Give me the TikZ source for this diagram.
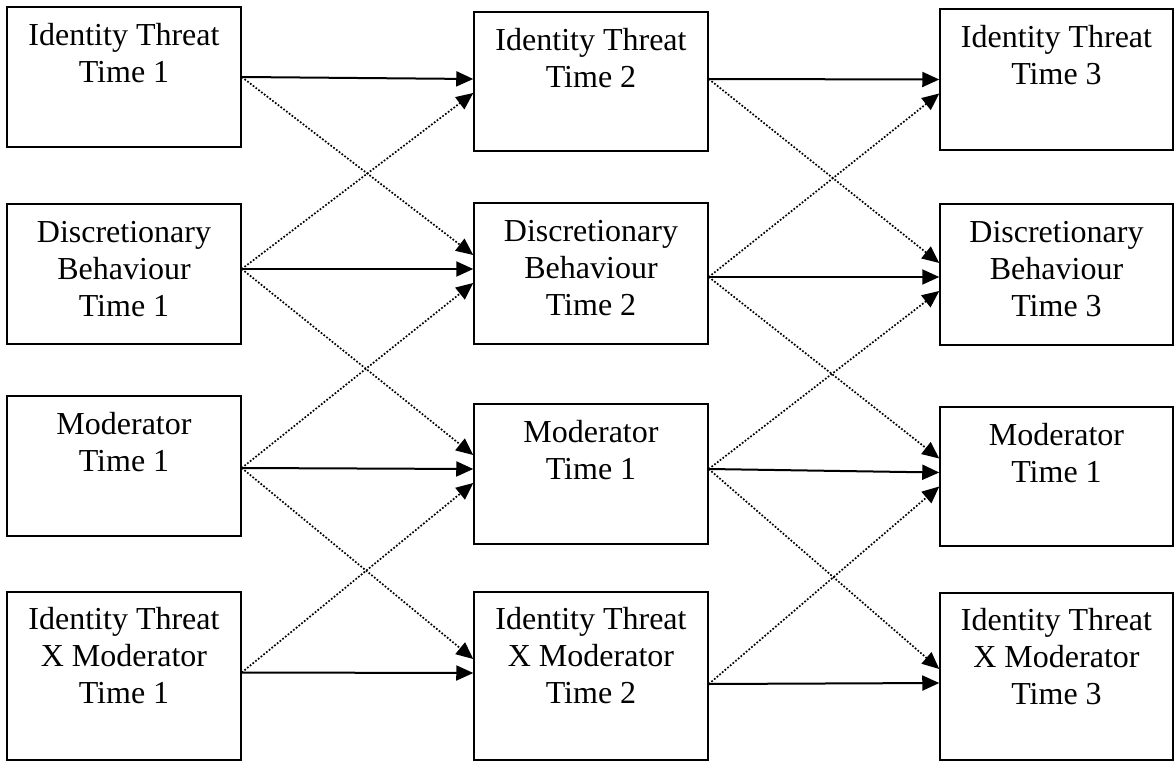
\documentclass[tikz,border=0pt]{standalone}
\usepackage{fontspec}
\setmainfont{Liberation Serif}
\usetikzlibrary{arrows.meta,calc}

\tikzset{
  box/.style={draw=black, line width=1.5pt, rectangle, inner sep=0pt, fill=white},
  lbl/.style={anchor=base, inner sep=0pt, font=\fontsize{32pt}{37pt}\selectfont},
  solidarrow/.style={line width=2pt, -{Triangle[length=17pt,width=15pt]}},
  dotarrow/.style={line width=1.7pt, dash pattern=on 1.7pt off 1.8pt,
    -{Triangle[length=17pt,width=15pt]}},
}

% box text: top-aligned, each line centred
\newcommand{\boxtext}[1]{\parbox[t]{228pt}{\centering #1}}

\begin{document}
\begin{tikzpicture}[x=1pt,y=-1pt]
\useasboundingbox (0,0) rectangle (1175,762);

% ---- column 1 ----
\node[box, minimum width=234pt, minimum height=140pt] (a1) at (124,77) {};
\node[box, minimum width=234pt, minimum height=140pt] (a2) at (124,274) {};
\node[box, minimum width=234pt, minimum height=140pt] (a3) at (124,466) {};
\node[box, minimum width=234pt, minimum height=168pt] (a4) at (124,676) {};
% ---- column 2 ----
\node[box, minimum width=234pt, minimum height=139pt] (b1) at (591,81.5) {};
\node[box, minimum width=234pt, minimum height=141pt] (b2) at (591,273.5) {};
\node[box, minimum width=234pt, minimum height=140pt] (b3) at (591,474) {};
\node[box, minimum width=234pt, minimum height=168pt] (b4) at (591,676) {};
% ---- column 3 ----
\node[box, minimum width=233pt, minimum height=141pt] (c1) at (1056.5,79.5) {};
\node[box, minimum width=233pt, minimum height=141pt] (c2) at (1056.5,274.5) {};
\node[box, minimum width=233pt, minimum height=139pt] (c3) at (1056.5,476.5) {};
\node[box, minimum width=233pt, minimum height=167pt] (c4) at (1056.5,676.5) {};

% ---- box texts ----
\node[lbl] (ta1) at ([yshift=-39.5pt]a1.north) {\boxtext{Identity Threat\\Time 1}};
\node[lbl] (ta2) at ([yshift=-39.5pt]a2.north) {\boxtext{Discretionary\\Behaviour\\Time 1}};
\node[lbl] (ta3) at ([yshift=-39.5pt]a3.north) {\boxtext{Moderator\\Time 1}};
\node[lbl] (ta4) at ([yshift=-38.5pt]a4.north) {\boxtext{Identity Threat\\X Moderator\\Time 1}};
\node[lbl] (tb1) at ([yshift=-39.5pt]b1.north) {\boxtext{Identity Threat\\Time 2}};
\node[lbl] (tb2) at ([yshift=-39.5pt]b2.north) {\boxtext{Discretionary\\Behaviour\\Time 2}};
\node[lbl] (tb3) at ([yshift=-39.5pt]b3.north) {\boxtext{Moderator\\Time 1}};
\node[lbl] (tb4) at ([yshift=-38.5pt]b4.north) {\boxtext{Identity Threat\\X Moderator\\Time 2}};
\node[lbl] (tc1) at ([yshift=-39.5pt]c1.north) {\boxtext{Identity Threat\\Time 3}};
\node[lbl] (tc2) at ([yshift=-39.5pt]c2.north) {\boxtext{Discretionary\\Behaviour\\Time 3}};
\node[lbl] (tc3) at ([yshift=-39.5pt]c3.north) {\boxtext{Moderator\\Time 1}};
\node[lbl] (tc4) at ([yshift=-38.5pt]c4.north) {\boxtext{Identity Threat\\X Moderator\\Time 3}};

% ---- connection points on the box sides ----
% outputs of column 1
\coordinate (oa1) at (a1.east);
\coordinate (oa2) at ([yshift=5pt]a2.east);
\coordinate (oa3) at ([yshift=-2pt]a3.east);
\coordinate (oa4) at ([yshift=3.5pt]a4.east);
% inputs of column 2
\coordinate (ib1) at ([yshift=2.5pt]b1.west);
\coordinate (ib2) at ([yshift=4.5pt]b2.west);
\coordinate (ib3) at ([yshift=5pt]b3.west);
\coordinate (ib4) at ([yshift=3pt]b4.west);
% outputs of column 2
\coordinate (ob1) at ([yshift=2.5pt]b1.east);
\coordinate (ob2) at ([yshift=-3.5pt]b2.east);
\coordinate (ob3) at ([yshift=5pt]b3.east);
\coordinate (ob4) at ([yshift=-8pt]b4.east);
% inputs of column 3
\coordinate (ic1) at (c1.west);
\coordinate (ic2) at ([yshift=-2.5pt]c2.west);
\coordinate (ic3) at ([yshift=4pt]c3.west);
\coordinate (ic4) at ([yshift=-6.5pt]c4.west);

% ---- stability paths (solid) ----
\foreach \i in {1,2,3,4} {
  \draw[solidarrow] (oa\i) -- (ib\i);
  \draw[solidarrow] (ob\i) -- (ic\i);
}

% ---- cross-lagged paths (dotted) ----
% downward: enter just above the solid arrow head
\foreach \i/\j in {1/2,2/3,3/4} {
  \draw[dotarrow] (oa\i) -- ([yshift=14pt]ib\j);
  \draw[dotarrow] (ob\i) -- ([yshift=14pt]ic\j);
}
% upward: enter just below the solid arrow head
\foreach \i/\j in {2/1,3/2,4/3} {
  \draw[dotarrow] (oa\i) -- ([yshift=-14pt]ib\j);
  \draw[dotarrow] (ob\i) -- ([yshift=-14pt]ic\j);
}
\end{tikzpicture}
\end{document}
